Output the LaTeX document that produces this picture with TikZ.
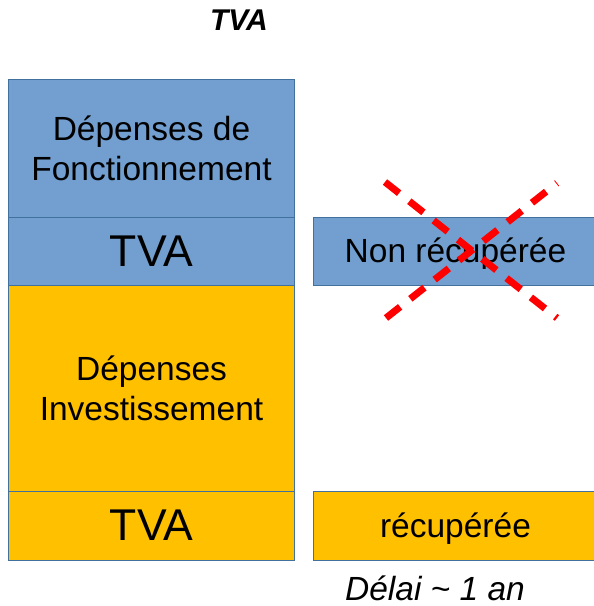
\documentclass[tikz,border=0pt]{standalone}
\usepackage{fontspec}
\setmainfont{Liberation Sans}
\definecolor{boxblue}{RGB}{114,159,207}
\definecolor{boxorange}{RGB}{255,192,0}
\definecolor{edgeblue}{RGB}{65,113,156}
\definecolor{xred}{RGB}{255,0,0}
\begin{document}
\begin{tikzpicture}[x=1pt,y=-1pt,
  box/.style={draw=edgeblue,line width=1pt,rectangle,inner sep=0pt,align=center,
    font=\fontsize{33.5}{40}\selectfont},
  bluebox/.style={box,fill=boxblue},
  orangebox/.style={box,fill=boxorange},
  bigtva/.style={font=\fontsize{44.5}{50}\selectfont},
  cross/.style={draw=xred,line width=7pt,dash pattern=on 18pt off 13pt}]
\useasboundingbox (0,0) rectangle (594,606);
\clip (0,0) rectangle (594,606);
\node[font=\fontsize{30}{34}\selectfont\bfseries\itshape] (title) at (239,20) {TVA};
\node[bluebox,minimum width=286pt,minimum height=137.5pt] (fonct) at (151.5,148.25)
  {Dépenses de\\Fonctionnement};
\node[bluebox,bigtva,minimum width=286pt,minimum height=68.5pt] (tvaf) at (151.5,251.25) {TVA};
\node[orangebox,minimum width=286pt,minimum height=205.5pt] (invest) at (151.5,388.25)
  {Dépenses\\Investissement};
\node[orangebox,bigtva,minimum width=286pt,minimum height=69pt] (tvai) at (151.5,525.5) {TVA};
\node[bluebox,text depth=2pt,minimum width=285pt,minimum height=68.5pt] (nonrec) at (455.5,251.25) {Non récupérée};
\node[orangebox,text depth=2pt,minimum width=285pt,minimum height=68.5pt] (rec) at (455.5,525.75) {récupérée};
\node[font=\fontsize{33.5}{40}\selectfont\itshape,anchor=base] (delai) at (435,600.5) {Délai \textasciitilde{} 1 an};
\coordinate (x1a) at (385,182);
\coordinate (x1b) at (557,318);
\coordinate (x2a) at (386,318);
\coordinate (x2b) at (557,183);
\draw[cross] (x1a) -- (x1b);
\draw[cross] (x2a) -- (x2b);
\end{tikzpicture}
\end{document}
